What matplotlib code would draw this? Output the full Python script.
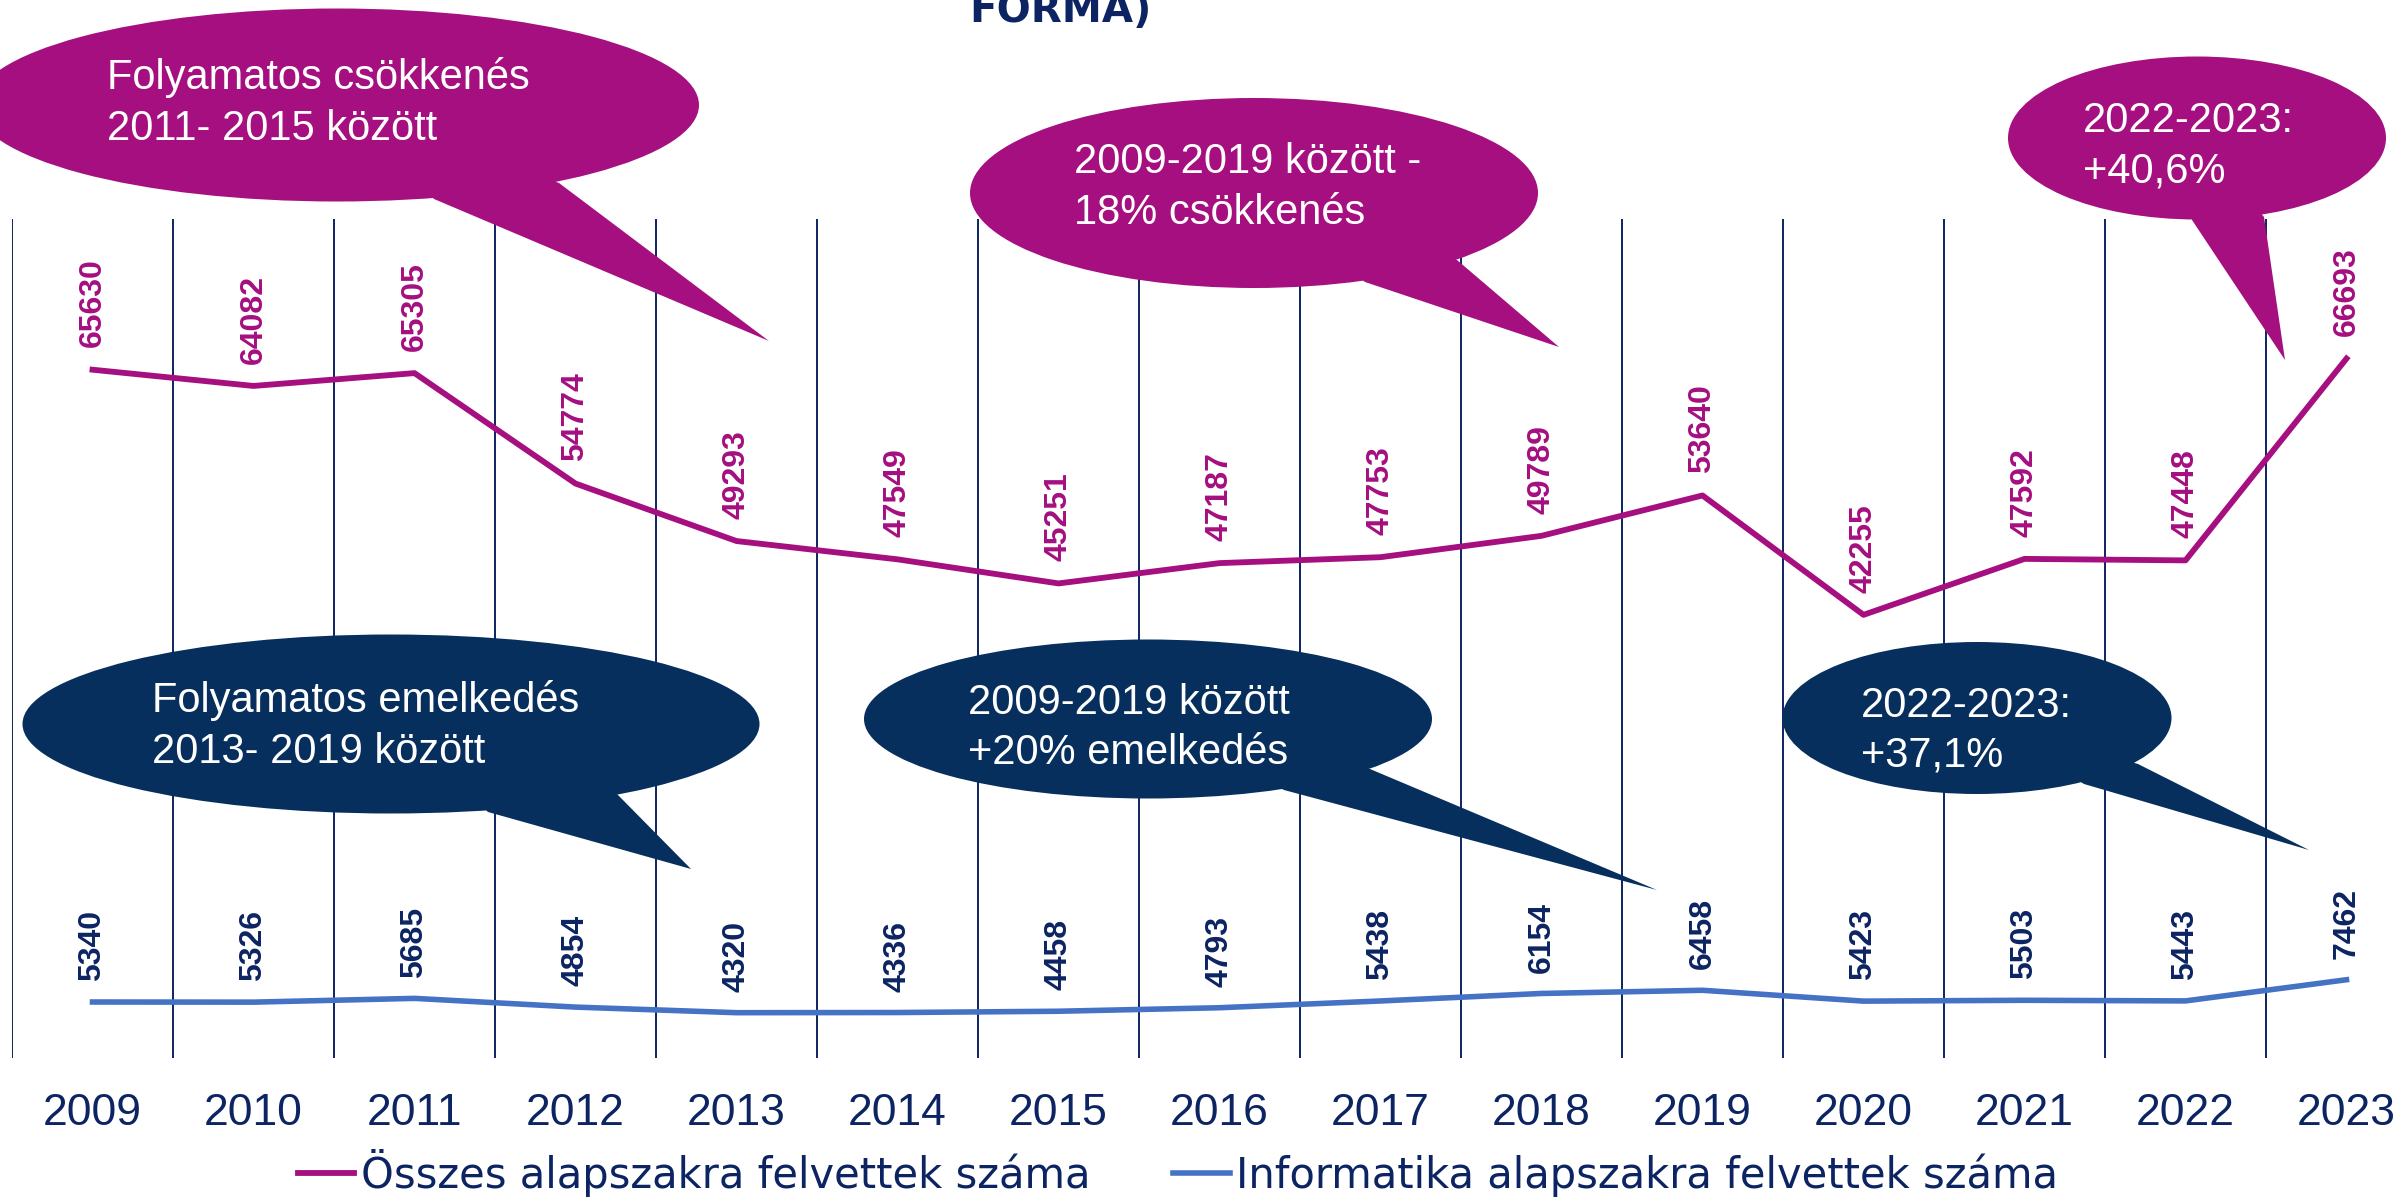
import matplotlib
matplotlib.use('Agg')
import matplotlib.pyplot as plt
from matplotlib.patches import Ellipse, Polygon
import numpy as np

# data
years = ['2009', '2010', '2011', '2012', '2013', '2014', '2015', '2016',
         '2017', '2018', '2019', '2020', '2021', '2022', '2023']
total = [65630, 64082, 65305, 54774, 49293, 47549, 45251, 47187,
         47753, 49789, 53640, 42255, 47592, 47448, 66693]
informatika = [5340, 5326, 5685, 4854, 4320, 4336, 4458, 4793,
               5438, 6154, 6458, 5423, 5503, 5443, 7462]
series_names = ['Összes alapszakra felvettek száma',
                'Informatika alapszakra felvettek száma']
title_tail = 'FORMA)'

MAG = '#A50F80'
BLUE = '#4472C4'
NAVY = '#0C2462'
BUBBLE_NAVY = '#072F5E'

W, H = 2407, 1197
fig = plt.figure(figsize=(W / 100, H / 100), dpi=100)
ax = fig.add_axes([12 / W, (H - 1058) / H, 2415 / W, (1058 - 219) / H])
ax.patch.set_alpha(0)

x = np.arange(len(years))
l1, = ax.plot(x, total, color=MAG, lw=4.2, zorder=3)
l2, = ax.plot(x, informatika, color=BLUE, lw=4, zorder=3)

for gx in x - 0.5:
    ax.axvline(gx, color=NAVY, lw=1.4, zorder=1)

ax.set_xlim(-0.5, len(years) - 0.5)
ax.set_ylim(0, 80000)
ax.set_yticks([])
ax.set_xticks(x, years)
ax.tick_params(axis='x', length=0, pad=25, labelcolor=NAVY)
for t in ax.get_xticklabels():
    t.set_fontfamily('Liberation Sans')
    t.set_fontsize(32)
for s in ax.spines.values():
    s.set_visible(False)

for vals, col, off in [(total, MAG, 16), (informatika, NAVY, 15)]:
    for i, v in enumerate(vals):
        ax.annotate(str(v), (i, v), xytext=(0, off), textcoords='offset points',
                    rotation=90, ha='center', va='bottom', fontsize=23,
                    fontweight='bold', family='Liberation Sans', color=col,
                    zorder=4)

fig.text(1060 / W, 1 - 22 / H, title_tail, ha='center', va='baseline',
         fontsize=29, fontweight='bold', color=NAVY)

fig.legend([l1, l2], series_names, loc='center',
           bbox_to_anchor=(1178 / W, (H - 1173) / H), ncol=2, frameon=False,
           fontsize=30, labelcolor=NAVY, handlelength=1.35,
           handletextpad=0.15, columnspacing=2.0, borderpad=0,
           borderaxespad=0)

# speech bubbles, in pixel coordinates of the figure
ov = fig.add_axes([0, 0, 1, 1])
ov.set_xlim(0, W)
ov.set_ylim(H, 0)
ov.axis('off')
ov.set_zorder(5)

bubbles = [
    (MAG, (337, 105), 724, 193, [(434, 199), (769, 341), (559, 183)],
     ['Folyamatos csökkenés', '2011- 2015 között'], 107, [89, 140]),
    (MAG, (1254, 193), 568, 190, [(1365, 282), (1559, 347), (1457, 260)],
     ['2009-2019 között -', '18% csökkenés'], 1074, [173, 224]),
    (MAG, (2197, 138), 378, 163, [(2192, 220), (2285, 360), (2264, 217)],
     ['2022-2023:', '+40,6%'], 2083, [132, 183]),
    (BUBBLE_NAVY, (391, 724), 737, 179, [(488, 812), (691, 869), (617, 794)],
     ['Folyamatos emelkedés', '2013- 2019 között'], 152, [712, 763]),
    (BUBBLE_NAVY, (1148, 719), 568, 159, [(1284, 790), (1657, 890), (1370, 769)],
     ['2009-2019 között', '+20% emelkedés'], 968, [714, 764]),
    (BUBBLE_NAVY, (1977, 718), 389, 152, [(2084, 784), (2309, 850), (2138, 764)],
     ['2022-2023:', '+37,1%'], 1861, [717, 767]),
]

for col, c, w, h, tail, lines, tx, bases in bubbles:
    ov.add_patch(Ellipse(c, w, h, facecolor=col, edgecolor='none'))
    ov.add_patch(Polygon(tail + [c], closed=True, facecolor=col,
                         edgecolor='none'))
    for t, b in zip(lines, bases):
        ov.text(tx, b, t, ha='left', va='baseline', fontsize=30,
                family='Liberation Sans', color='white')

fig.savefig('out.png', dpi=100)
